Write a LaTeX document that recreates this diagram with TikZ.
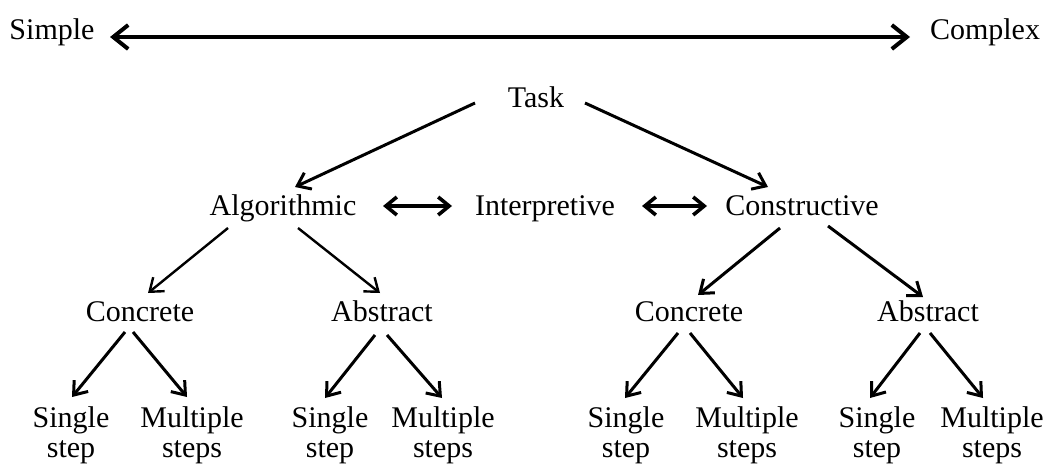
\documentclass[tikz,border=0pt]{standalone}
\usepackage{fontspec}
\setmainfont{Liberation Serif}
\usepackage{tikz}
\usetikzlibrary{arrows.meta}
\usetikzlibrary{positioning}

\begin{document}
\begin{tikzpicture}[x=0.5pt, y=-0.5pt,
        word/.style={inner sep=0pt, text height=11pt, text depth=2pt, font=\fontsize{15}{15}\selectfont},
        leaf/.style={inner sep=0pt, align=center, font=\fontsize{15}{15}\selectfont},
        branch/.style={-{Straight Barb[length=6pt, width=9pt]}, line width=1.5pt},
        thinbranch/.style={branch, line width=1.2pt},
        twoway/.style={{Straight Barb[length=5.5pt, width=9pt]}-{Straight Barb[length=5.5pt, width=9pt]}, line width=1.8pt},
        spanline/.style={{Straight Barb[length=7.5pt, width=12pt]}-{Straight Barb[length=7.5pt, width=12pt]}, line width=2pt}
      ]
        \useasboundingbox (0,0) rectangle (1047,466);

        % scale of difficulty
        \node[word]  (simple)   at (52,30)   {Simple};
        \node[word]  (complex)  at (985,30)  {Complex};
        \draw[spanline] ([shift={(58,7)}]simple.center) -- ([shift={(-75,7)}]complex.center);

        % top levels
        \node[word]  (task)     at (536,98)  {Task};
        \node[word]  (algo)     at (283,206) {Algorithmic};
        \node[word]  (interp)   at (545,206) {Interpretive};
        \node[word]  (constr)   at (802,206) {Constructive};

        \node[word]  (conc1)    at (140,312) {Concrete};
        \node[word]  (abs1)     at (382,312) {Abstract};
        \node[word]  (conc2)    at (689,312) {Concrete};
        \node[word]  (abs2)     at (928,312) {Abstract};

        % bottom row
        \node[leaf]  (s1)       at (71,435)  {Single\\step};
        \node[leaf]  (m1)       [right of=s1, node distance=60.5pt] {Multiple\\steps};
        \node[leaf]  (s2)       at (330,435) {Single\\step};
        \node[leaf]  (m2)       [right of=s2, node distance=56.5pt] {Multiple\\steps};
        \node[leaf]  (s3)       at (626,435) {Single\\step};
        \node[leaf]  (m3)       [right of=s3, node distance=60.5pt] {Multiple\\steps};
        \node[leaf]  (s4)       at (877,435) {Single\\step};
        \node[leaf]  (m4)       [right of=s4, node distance=57.5pt] {Multiple\\steps};

        \draw[branch] ([shift={(-61,5)}]task.center) -- ([shift={(12,-19)}]algo.center);
        \draw[branch] ([shift={(49,5)}]task.center) -- ([shift={(-34,-19)}]constr.center);

        \draw[twoway] ([shift={(100,0)}]algo.center) -- ([shift={(-93,0)}]interp.center);
        \draw[twoway] ([shift={(97,0)}]interp.center) -- ([shift={(-95,0)}]constr.center);

        \draw[thinbranch] ([shift={(-55,22)}]algo.center) -- ([shift={(8,-19)}]conc1.center);
        \draw[thinbranch] ([shift={(15,22)}]algo.center) -- ([shift={(-2,-19)}]abs1.center);
        \draw[branch] ([shift={(-22,22)}]constr.center) -- ([shift={(9,-17)}]conc2.center);
        \draw[branch] ([shift={(26,20)}]constr.center) -- ([shift={(-5,-15)}]abs2.center);

        \draw[branch] ([shift={(-15,20)}]conc1.center) -- ([shift={(1,-38)}]s1.center);
        \draw[branch] ([shift={(-7,20)}]conc1.center) -- ([shift={(-5,-38)}]m1.center);
        \draw[branch] ([shift={(-7,23)}]abs1.center) -- ([shift={(-5,-37)}]s2.center);
        \draw[branch] ([shift={(5,23)}]abs1.center) -- ([shift={(-1,-37)}]m2.center);
        \draw[branch] ([shift={(-11,21)}]conc2.center) -- ([shift={(-1,-37)}]s3.center);
        \draw[branch] ([shift={(1,21)}]conc2.center) -- ([shift={(-4,-37)}]m3.center);
        \draw[branch] ([shift={(-8,21)}]abs2.center) -- ([shift={(-7,-37)}]s4.center);
        \draw[branch] ([shift={(2,21)}]abs2.center) -- ([shift={(-9,-37)}]m4.center);
      \end{tikzpicture}
\end{document}
